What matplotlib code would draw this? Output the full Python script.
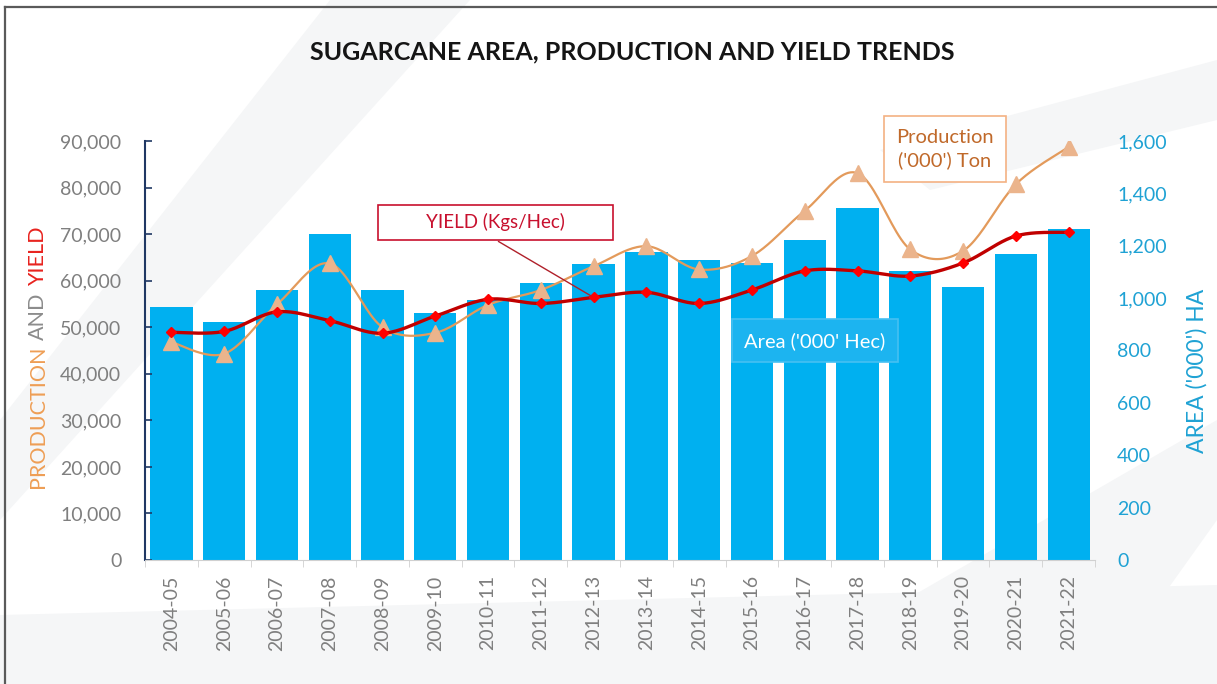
"""
Sugarcane area / production / yield combo chart
Bars = area on right axis, smoothed lines = production & yield on left axis
"""

import matplotlib
matplotlib.use('Agg')
import matplotlib.pyplot as plt
from matplotlib.patches import Rectangle, Polygon
import numpy as np

# data
years = ['2004-05', '2005-06', '2006-07', '2007-08', '2008-09', '2009-10',
         '2010-11', '2011-12', '2012-13', '2013-14', '2014-15', '2015-16',
         '2016-17', '2017-18', '2018-19', '2019-20', '2020-21', '2021-22']
area = [967, 910, 1031, 1244, 1031, 944, 993, 1059, 1130,
        1177, 1145, 1135, 1221, 1345, 1105, 1043, 1169, 1264]
production = [46800, 44300, 54900, 63700, 50000, 48800, 54800, 58000, 63100,
              67400, 62400, 65300, 75000, 83100, 66700, 66400, 80700, 88700]
yield_kg = [48900, 49100, 53300, 51400, 48700, 52400, 56000, 55100, 56400,
            57500, 55100, 58000, 62100, 62100, 61000, 63800, 69600, 70400]

left_ticks = list(range(0, 90001, 10000))
right_ticks = list(range(0, 1601, 200))

W, H = 1217, 684
BAR = '#00B0F0'
GREY = '#7F7F7F'
CYAN = '#1FA2D4'

plt.rcParams['font.family'] = ['Lato', 'DejaVu Sans']


def px(x, y):
    """pixel position (top-left origin) -> figure fraction"""
    return x / W, 1 - y / H


def smooth(xs, ys, n=24):
    """Catmull-Rom style bezier, like Excel's smoothed line"""
    xs = np.asarray(xs, float)
    ys = np.asarray(ys, float)
    pts = np.column_stack([xs, ys])
    out = []
    for i in range(len(pts) - 1):
        p0 = pts[max(i - 1, 0)]
        p1 = pts[i]
        p2 = pts[i + 1]
        p3 = pts[min(i + 2, len(pts) - 1)]
        c1 = p1 + (p2 - p0) / 6
        c2 = p2 - (p3 - p1) / 6
        t = np.linspace(0, 1, n)[:, None]
        seg = ((1 - t) ** 3 * p1 + 3 * (1 - t) ** 2 * t * c1
               + 3 * (1 - t) * t ** 2 * c2 + t ** 3 * p2)
        out.append(seg if i == 0 else seg[1:])
    out = np.vstack(out)
    return out[:, 0], out[:, 1]


fig = plt.figure(figsize=(W / 100, H / 100), dpi=100, facecolor='white')

# faint diagonal background bands (behind everything)
bands = [
    [(0, 520), (0, 420), (330, 0), (470, 0)],
    [(760, 684), (1100, 684), (1217, 520), (1217, 420)],
    [(880, 150), (1217, 60), (1217, 120), (930, 190)],
    [(0, 684), (0, 615), (1217, 585), (1217, 684)],
]
for b in bands:
    fig.patches.append(Polygon([px(x, y) for x, y in b], closed=True,
                               transform=fig.transFigure, facecolor='#F5F6F7',
                               edgecolor='none', zorder=-5))

# frame (left + top edges visible in the reference)
fig.lines.append(plt.Line2D([px(5, 0)[0], px(5, 0)[0]], [0, px(0, 7)[1]],
                            transform=fig.transFigure, color='#5A5A5A', lw=1.6))
fig.lines.append(plt.Line2D([px(5, 0)[0], 1], [px(0, 7)[1], px(0, 7)[1]],
                            transform=fig.transFigure, color='#5A5A5A', lw=1.6))

rect = [145 / W, 1 - 560 / H, (1095 - 145) / W, (560 - 141) / H]
ax = fig.add_axes(rect)
ax2 = ax.twinx()
ax.set_zorder(ax2.get_zorder() + 1)
ax.patch.set_visible(False)
ax2.patch.set_visible(False)

x = np.arange(len(years))

# bars (area, right axis)
ax2.bar(x, area, width=0.8, color=BAR, zorder=2)
ax2.set_ylim(0, 1600)
ax2.set_yticks(right_ticks)
ax2.set_yticklabels([f'{v:,}' for v in right_ticks])
ax2.tick_params(axis='y', length=0, pad=16, labelsize=14, labelcolor=CYAN)
for s in ax2.spines.values():
    s.set_visible(False)

# production line
sx, sy = smooth(x, production)
ax.plot(sx, sy, color='#E39A5B', lw=1.6, zorder=3)
ax.plot(x, production, ls='none', marker='^', ms=11.5, color='#EBB48C', zorder=4)

# yield line
sx, sy = smooth(x, yield_kg)
ax.plot(sx, sy, color='#C00000', lw=2.4, zorder=5)
ax.plot(x, yield_kg, ls='none', marker='D', ms=5.5, color='#FF0000', zorder=6)

ax.set_xlim(-0.5, len(years) - 0.5)
ax.set_ylim(0, 90000)
ax.set_yticks(left_ticks)
ax.set_yticklabels([f'{v:,}' for v in left_ticks])
ax.tick_params(axis='y', direction='in', length=5, width=1.2, color='#203864',
               pad=17, labelsize=14, labelcolor=GREY)

ax.set_xticks(x)
ax.set_xticklabels(years, rotation=90)
ax.set_xticks(np.arange(len(years) + 1) - 0.5, minor=True)
ax.tick_params(axis='x', which='major', length=0, pad=11, labelsize=14,
               labelcolor=GREY)
ax.tick_params(axis='x', which='minor', length=5, color='#D0D0D0')
ax.spines['top'].set_visible(False)
ax.spines['right'].set_visible(False)
ax.spines['left'].set_color('#203864')
ax.spines['left'].set_linewidth(1.5)
ax.spines['bottom'].set_color('#D0D0D0')

# title
fig.text(*px(632, 52), 'SUGARCANE AREA, PRODUCTION AND YIELD TRENDS',
         ha='center', va='center', fontsize=18, fontweight='bold',
         color='#151515')

# multi-coloured left axis title, built bottom-up
renderer = fig.canvas.get_renderer()
ypos = 488
for word, col in [('PRODUCTION', '#EE9E55'), ('AND', '#8C8C8C'), ('YIELD', '#E8231F')]:
    t = fig.text(*px(38, ypos), word, rotation=90, rotation_mode='anchor',
                 ha='left', va='center', fontsize=15.5, color=col)
    bb = t.get_window_extent(renderer)
    ypos -= bb.height + 6

fig.text(*px(1197, 371), "AREA ('000') HA", rotation=90, ha='center',
         va='center', fontsize=16.5, color=CYAN)


# callout boxes
def box(x0, y0, x1, y1, face, edge, lw=1.2):
    fx0, fy1 = px(x0, y1)
    fx1, fy0 = px(x1, y0)
    fig.patches.append(Rectangle((fx0, fy1), fx1 - fx0, fy0 - fy1,
                                 transform=fig.transFigure, facecolor=face,
                                 edgecolor=edge, lw=lw, zorder=10))


box(378, 205, 613, 240, 'white', '#C8102E')
fig.text(*px(495, 222), 'YIELD (Kgs/Hec)', ha='center', va='center',
         fontsize=13.5, color='#C8102E', zorder=11)
ax.annotate('', xy=(8, yield_kg[8]), xycoords='data',
            xytext=px(496, 240), textcoords='figure fraction',
            arrowprops=dict(arrowstyle='-', color='#B0202A', lw=1.0),
            zorder=9)

box(884, 116, 1006, 182, 'white', '#F4B183')
fig.text(*px(945, 149), "Production\n('000') Ton", ha='center', va='center',
         fontsize=14.5, color='#C0692A', linespacing=1.4, zorder=11)

box(732, 319, 898, 362, '#1CB4F0', '#45C0F2')
fig.text(*px(815, 341), "Area ('000' Hec)", ha='center', va='center',
         fontsize=14.5, color='white', zorder=11)

fig.savefig('out.png', dpi=100, facecolor='white')
